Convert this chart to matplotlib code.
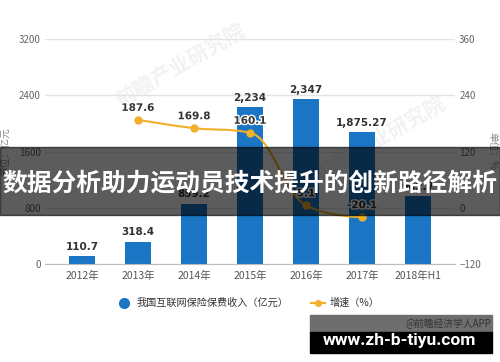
import numpy as np
import matplotlib.pyplot as plt
import matplotlib.patheffects as pe
from matplotlib.path import Path
from matplotlib.patches import PathPatch, Rectangle
from matplotlib.lines import Line2D

plt.rcParams['font.family'] = ['Noto Sans CJK SC', 'DejaVu Sans']

# ---- data ----
years = ['2012年', '2013年', '2014年', '2015年', '2016年', '2017年', '2018年H1']
premium = [110.7, 318.4, 859.2, 2234, 2347, 1875.27, 962.7]
premium_labels = ['110.7', '318.4', '859.2', '2,234', '2,347', '1,875.27', '962.7']
growth_pos = [1, 2, 3, 4, 5]
growth = [187.6, 169.8, 160.1, 5.1, -20.1]
growth_labels = ['187.6', '169.8', '160.1', '5.1', '-20.1']
left_ticks = [0, 800, 1600, 2400, 3200]
right_ticks = [-120, 0, 120, 240, 360]

bar_color = '#1a76c4'
line_color = '#f0b02a'
W, H = 500, 362

fig = plt.figure(figsize=(5, 3.62), dpi=100)
ax = fig.add_axes([45 / W, 1 - 264 / H, 410 / W, 225 / H])
x = np.arange(len(years))

# ---- bars ----
ax.bar(x, premium, width=0.47, color=bar_color, zorder=2)
for xi, v, lab in zip(x, premium, premium_labels):
    ax.annotate(lab, (xi, v), xytext=(0, 3), textcoords='offset points',
                ha='center', va='bottom', fontsize=7.5, fontweight='bold',
                color='#333333', family=['DejaVu Sans'], zorder=4)

ax.set_xlim(-0.66, 6.66)
ax.set_ylim(0, 3200)
ax.set_yticks(left_ticks)
ax.set_xticks(x)
ax.set_xticklabels(years)
ax.grid(axis='y', color='#e3e3e3', lw=1)
ax.set_axisbelow(True)
for s in ['top', 'right', 'left']:
    ax.spines[s].set_visible(False)
ax.spines['bottom'].set_color('#bbbbbb')
ax.tick_params(axis='y', length=0, pad=3, labelsize=7, labelcolor='#666666')
ax.tick_params(axis='x', length=0, pad=5, labelsize=7.5, labelcolor='#555555')
ax.set_ylabel('单位：亿元', fontsize=7, color='#888888', labelpad=6)

# ---- growth line (highcharts-style spline) ----
ax2 = ax.twinx()
ax2.set_ylim(-120, 360)
ax2.set_yticks(right_ticks)
for s in ax2.spines.values():
    s.set_visible(False)
ax2.tick_params(axis='y', length=0, pad=3, labelsize=7, labelcolor='#666666')
ax2.set_ylabel('单位：%', fontsize=7, color='#888888', rotation=270, labelpad=12)

gx = np.array(growth_pos, float)
gy = np.array(growth, float)
sm = 1.5
rc = [None] * len(gx)
verts = [(gx[0], gy[0])]
codes = [Path.MOVETO]
for i in range(1, len(gx)):
    px, py = gx[i], gy[i]
    lx, ly = gx[i - 1], gy[i - 1]
    lcx, lcy = px, py
    if i + 1 < len(gx):
        nx, ny = gx[i + 1], gy[i + 1]
        lcx = (sm * px + lx) / (sm + 1)
        lcy = (sm * py + ly) / (sm + 1)
        rcx = (sm * px + nx) / (sm + 1)
        rcy = (sm * py + ny) / (sm + 1)
        corr = (rcy - lcy) * (rcx - px) / (rcx - lcx) + py - rcy
        lcy += corr
        rcy += corr
        if lcy > ly and lcy > py:
            lcy = max(ly, py); rcy = 2 * py - lcy
        elif lcy < ly and lcy < py:
            lcy = min(ly, py); rcy = 2 * py - lcy
        if rcy > ny and rcy > py:
            rcy = max(ny, py); lcy = 2 * py - rcy
        elif rcy < ny and rcy < py:
            rcy = min(ny, py); lcy = 2 * py - rcy
        rc[i] = (rcx, rcy)
    prev = rc[i - 1] if rc[i - 1] is not None else (lx, ly)
    verts += [prev, (lcx, lcy), (px, py)]
    codes += [Path.CURVE4] * 3
ax2.add_patch(PathPatch(Path(verts, codes), fill=False, edgecolor=line_color,
                        lw=1.5, zorder=3))
ax2.plot(gx, gy, 'o', color=line_color, markersize=5, zorder=4)
for xi, v, lab in zip(gx, gy, growth_labels):
    ax2.annotate(lab, (xi, v), xytext=(0, 5), textcoords='offset points',
                 ha='center', va='bottom', fontsize=7.5, fontweight='bold',
                 color='#333333', family=['DejaVu Sans'], zorder=5,
                 path_effects=[pe.withStroke(linewidth=2, foreground='white')])

# faint source watermark
fig.text(0.36, 0.82, '前瞻产业研究院', fontsize=15, color='#f2f2f2', rotation=30,
         ha='center', va='center', fontweight='bold', zorder=-1)
fig.text(0.76, 0.62, '前瞻产业研究院', fontsize=15, color='#f2f2f2', rotation=30,
         ha='center', va='center', fontweight='bold', zorder=-1)
ax.patch.set_alpha(0)
ax2.patch.set_alpha(0)

# ---- legend ----
handles = [Line2D([], [], marker='o', ls='none', color=bar_color, markersize=7),
           Line2D([], [], marker='o', color=line_color, markersize=4, lw=1.5)]
leg = fig.legend(handles, ['我国互联网保险保费收入（亿元）', '增速（%）'],
                 loc='center', bbox_to_anchor=(0.497, 1 - 303 / H), ncol=2,
                 frameon=False, fontsize=7.3, handlelength=1.4,
                 columnspacing=2.2, handletextpad=0.5)
for t in leg.get_texts():
    t.set_color('#333333')

# ---- overlay banner ----
fig.add_artist(Rectangle((0, 1 - 215 / H), 1, 68 / H, transform=fig.transFigure,
                         color='black', alpha=0.64, zorder=10))
fig.text(0.5, 1 - 183 / H, '数据分析助力运动员技术提升的创新路径解析',
         ha='center', va='center', color='white', fontsize=17.8,
         fontweight='bold', zorder=11)

# ---- bottom watermark ----
fig.add_artist(Rectangle((310 / W, 1 - 332 / H), 182 / W, 17 / H,
                         transform=fig.transFigure, color='#6e6e6e', zorder=10))
fig.text(491 / W, 1 - 323.5 / H, '@前瞻经济学人APP', ha='right', va='center',
         fontsize=7, color='#333333', zorder=11)
fig.add_artist(Rectangle((310 / W, 1 - 353 / H), 182 / W, 21 / H,
                         transform=fig.transFigure, color='black', zorder=10))
fig.text(399.5 / W, 1 - 341 / H, 'www.zh-b-tiyu.com', ha='center', va='center',
         fontsize=12.5, fontweight='bold', color='white',
         family=['Roboto', 'DejaVu Sans'], zorder=11)

fig.savefig('out.png', dpi=100)
